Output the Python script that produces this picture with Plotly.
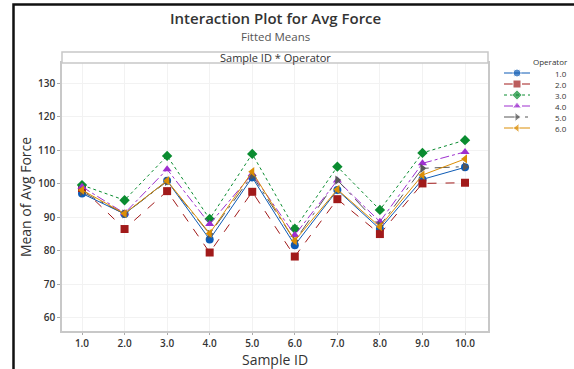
import plotly.graph_objects as go

sample_ids = [1, 2, 3, 4, 5, 6, 7, 8, 9, 10]
tick_labels = ["1.0", "2.0", "3.0", "4.0", "5.0", "6.0", "7.0", "8.0", "9.0", "10.0"]
operators = ["1.0", "2.0", "3.0", "4.0", "5.0", "6.0"]

op1 = [97.1, 91.0, 100.9, 83.4, 101.9, 81.7, 98.1, 86.5, 101.3, 104.9]
op2 = [98.7, 86.5, 97.8, 79.5, 97.6, 78.3, 95.4, 85.0, 100.1, 100.3]
op3 = [99.6, 95.1, 108.3, 89.5, 108.9, 86.6, 105.1, 92.2, 109.2, 113.0]
op4 = [99.1, 91.2, 104.3, 88.0, 102.9, 84.7, 101.0, 88.7, 106.1, 109.5]
op5 = [97.6, 91.0, 100.7, 85.0, 102.5, 83.0, 101.1, 87.5, 104.6, 105.1]
op6 = [98.1, 91.1, 100.9, 85.2, 103.6, 83.0, 98.3, 87.2, 102.6, 107.4]

series = [op1, op2, op3, op4, op5, op6]
colors = ["#0D5BB5", "#A11A1A", "#0A8C30", "#9E2FCF", "#575757", "#DB8E06"]
symbols = ["circle", "square", "diamond", "triangle-up", "triangle-right", "triangle-left"]
dashes = ["solid", "dash", "dot", "dashdot", "longdashdot", "solid"]

FONT = "Open Sans"
W, H = 574, 369
ML, MR, MT, MB = 62, 0, 63, 38
PW = W - ML - MR          # plotting width in px
PH = H - MT - MB          # plotting height in px
MAIN_RIGHT = 488          # px right edge of main panel
LEG_LEFT = 500            # px left edge of legend area

def px_x(p):
    return (p - ML) / PW

def px_y(p):
    return (H - MB - p) / PH

fig = go.Figure()
for name, vals, c, s, d in zip(operators, series, colors, symbols, dashes):
    fig.add_trace(go.Scatter(
        x=sample_ids, y=vals, name=name, mode="lines+markers",
        line=dict(color=c, width=1, dash=d),
        marker=dict(color=c, symbol=s, size=8),
        showlegend=False,
    ))

# compact legend drawn on a small auxiliary axis (row index -> vertical slot)
annotations = []
for i, (name, c, s, d) in enumerate(zip(operators, colors, symbols, dashes)):
    fig.add_trace(go.Scatter(
        x=[4, 17, 30], y=[i, i, i], mode="lines+markers",
        line=dict(color=c, width=1, dash=d),
        marker=dict(color=c, symbol=s, size=[0, 8, 0]),
        xaxis="x2", yaxis="y2", showlegend=False, hoverinfo="skip",
    ))
    annotations.append(dict(text=name, xref="x2", yref="y2", x=69, y=i,
                            xanchor="right", yanchor="middle", showarrow=False,
                            font=dict(size=8, color="#333333", family=FONT)))
annotations.append(dict(text="Operator", xref="paper", yref="paper", x=px_x(570), y=px_y(62),
                        xanchor="right", yanchor="middle", showarrow=False,
                        font=dict(size=8, color="#333333", family=FONT)))

row_top = 73.0
row_gap = 11.0
y2_top = (MT - row_top) / row_gap
y2_bot = (H - MB - row_top) / row_gap

annotations += [
    dict(text="Interaction Plot for Avg Force", xref="paper", yref="paper",
         x=px_x(275), y=px_y(18.5), xanchor="center", yanchor="middle", showarrow=False,
         borderpad=0,
         font=dict(size=15, color="#333333", family=FONT, weight=600)),
    dict(text="Fitted Means", xref="paper", yref="paper",
         x=px_x(275), y=px_y(36.5), xanchor="center", yanchor="middle", showarrow=False,
         borderpad=0,
         font=dict(size=11.5, color="#555555", family=FONT)),
    dict(text="Sample ID * Operator", xref="paper", yref="paper",
         x=px_x(275), y=px_y(57.5), xanchor="center", yanchor="middle", showarrow=False,
         font=dict(size=11, color="#333333", family=FONT)),
]

fig.update_layout(
    width=W, height=H,
    margin=dict(l=ML, r=MR, t=MT, b=MB),
    paper_bgcolor="white", plot_bgcolor="white",
    font=dict(family=FONT, color="#333333"),
    showlegend=False,
    xaxis=dict(
        domain=[0, px_x(MAIN_RIGHT)],
        range=[0.53, 10.54], tickmode="array", tickvals=sample_ids, ticktext=tick_labels,
        showgrid=True, gridcolor="#F2F2F2", gridwidth=1,
        showline=True, linecolor="#C8C8C8", linewidth=1.5, mirror=True,
        ticks="outside", ticklen=2, tickcolor="#AAAAAA",
        tickfont=dict(size=10, color="#333333", weight=600), zeroline=False,
        title=dict(text="Sample ID", font=dict(size=14, color="#333333"), standoff=2),
    ),
    yaxis=dict(
        range=[56.1, 136.0], tickmode="array", tickvals=[60, 70, 80, 90, 100, 110, 120, 130],
        showgrid=True, gridcolor="#F2F2F2", gridwidth=1,
        showline=True, linecolor="#C8C8C8", linewidth=1.5, mirror=True,
        ticks="outside", ticklen=3, tickcolor="#AAAAAA",
        tickfont=dict(size=10, color="#333333", weight=600), zeroline=False,
        title=dict(text="Mean of Avg Force", font=dict(size=14, color="#333333"), standoff=3),
    ),
    xaxis2=dict(domain=[px_x(LEG_LEFT), 1.0], range=[0, W - LEG_LEFT], visible=False,
                fixedrange=True),
    yaxis2=dict(domain=[0, 1], range=[y2_bot, y2_top], visible=False, fixedrange=True,
                anchor="x2"),
    shapes=[
        dict(type="rect", xref="paper", yref="paper", x0=0, x1=px_x(MAIN_RIGHT),
             y0=1, y1=px_y(52), line=dict(color="#C8C8C8", width=1.5), fillcolor="white"),
        dict(type="path", xref="paper", yref="paper",
             path=f"M {px_x(13.5)} {px_y(375)} L {px_x(13.5)} {px_y(4.5)} L {px_x(580)} {px_y(4.5)}",
             line=dict(color="#111111", width=2.5)),
    ],
    annotations=annotations,
)

fig.write_html("out.html")
